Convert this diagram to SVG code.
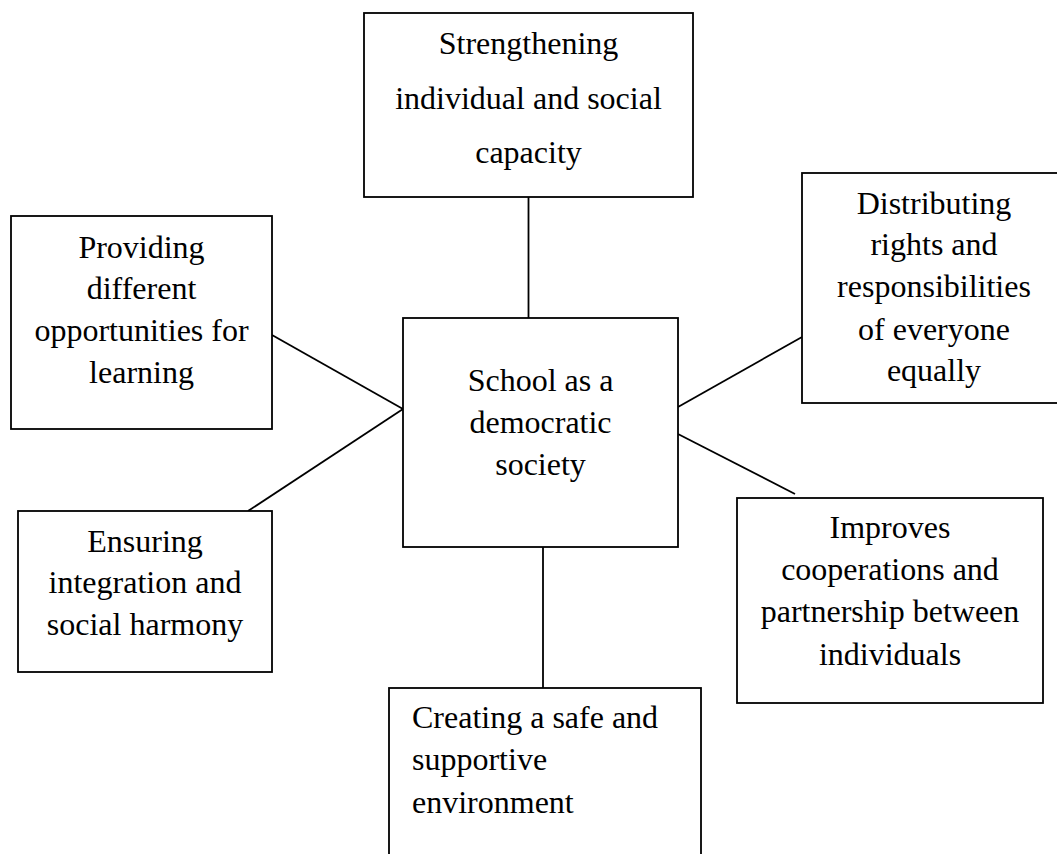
<svg xmlns="http://www.w3.org/2000/svg" width="1057" height="854" viewBox="0 0 1057 854">
<style>
.box{fill:#fff;stroke:#000;stroke-width:1.8}
.ln{stroke:#000;stroke-width:1.8;fill:none}
text{font-family:"Liberation Serif","Times New Roman",serif;font-size:32px;fill:#000}
.c{text-anchor:middle}
</style>
<rect width="1057" height="854" fill="#fff"/>
<g id="connectors">
<line class="ln" x1="528.5" y1="197" x2="528.5" y2="318"/>
<line class="ln" x1="543" y1="547" x2="543" y2="688"/>
<line class="ln" x1="272" y1="335" x2="403" y2="409"/>
<line class="ln" x1="403" y1="409" x2="248" y2="511"/>
<line class="ln" x1="678" y1="407" x2="802" y2="337"/>
<line class="ln" x1="678" y1="434" x2="795" y2="494"/>
</g>
<g id="top">
<rect class="box" x="364" y="13" width="329" height="184"/>
<text class="c" x="528.5" y="54">Strengthening</text>
<text class="c" x="528.5" y="109">individual and social</text>
<text class="c" x="528.5" y="163">capacity</text>
</g>
<g id="center">
<rect class="box" x="403" y="318" width="275" height="229"/>
<text class="c" x="540.5" y="391">School as a</text>
<text class="c" x="540.5" y="433">democratic</text>
<text class="c" x="540.5" y="475">society</text>
</g>
<g id="left-top">
<rect class="box" x="11" y="216" width="261" height="213"/>
<text class="c" x="141.5" y="258">Providing</text>
<text class="c" x="141.5" y="299">different</text>
<text class="c" x="141.5" y="341">opportunities for</text>
<text class="c" x="141.5" y="383">learning</text>
</g>
<g id="left-bottom">
<rect class="box" x="18" y="511" width="254" height="161"/>
<text class="c" x="145" y="552">Ensuring</text>
<text class="c" x="145" y="593">integration and</text>
<text class="c" x="145" y="635">social harmony</text>
</g>
<g id="right-top">
<rect class="box" x="802" y="173" width="264" height="230"/>
<text class="c" x="934" y="214">Distributing</text>
<text class="c" x="934" y="255">rights and</text>
<text class="c" x="934" y="297">responsibilities</text>
<text class="c" x="934" y="340">of everyone</text>
<text class="c" x="934" y="381">equally</text>
</g>
<g id="right-bottom">
<rect class="box" x="737" y="498" width="306" height="205"/>
<text class="c" x="890" y="538">Improves</text>
<text class="c" x="890" y="580">cooperations and</text>
<text class="c" x="890" y="622">partnership between</text>
<text class="c" x="890" y="665">individuals</text>
</g>
<g id="bottom">
<rect class="box" x="389" y="688" width="312" height="180"/>
<text x="412" y="728">Creating a safe and</text>
<text x="412" y="770">supportive</text>
<text x="412" y="813">environment</text>
</g>
</svg>
